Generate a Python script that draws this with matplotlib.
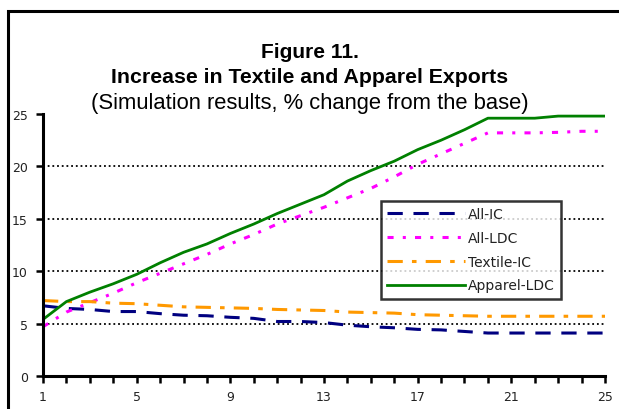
import matplotlib
matplotlib.use("Agg")
import matplotlib.pyplot as plt
from matplotlib.patches import Rectangle
from matplotlib.ticker import MultipleLocator

plt.rcParams['font.family'] = ['Liberation Sans', 'DejaVu Sans']

periods = list(range(1, 26))
x_tick_labels = ["1", "5", "9", "13", "17", "21", "25"]
y_ticks = [0, 5, 10, 15, 20, 25]
grid_levels = [5, 10, 15, 20]

all_ic = [6.7, 6.45, 6.35, 6.15, 6.15, 5.95, 5.8, 5.75, 5.6, 5.5, 5.2, 5.2, 5.1,
          4.85, 4.7, 4.6, 4.45, 4.4, 4.25, 4.1, 4.1, 4.1, 4.1, 4.1, 4.1]
all_ldc = [4.7, 6.1, 7.0, 7.9, 8.9, 9.8, 10.7, 11.6, 12.6, 13.5, 14.5, 15.3, 16.1,
           17.0, 17.9, 19.0, 20.2, 21.2, 22.2, 23.2, 23.2, 23.2, 23.25, 23.35, 23.35]
textile_ic = [7.2, 7.1, 7.1, 6.95, 6.9, 6.75, 6.6, 6.55, 6.5, 6.45, 6.35, 6.3, 6.25,
              6.1, 6.05, 6.0, 5.85, 5.8, 5.75, 5.7, 5.7, 5.7, 5.7, 5.7, 5.7]
apparel_ldc = [5.4, 7.1, 8.0, 8.8, 9.7, 10.8, 11.8, 12.6, 13.6, 14.5, 15.5, 16.4, 17.3,
               18.6, 19.6, 20.5, 21.6, 22.5, 23.5, 24.6, 24.6, 24.6, 24.8, 24.8, 24.8]

W, H = 619, 410
fig = plt.figure(figsize=(W / 100, H / 100), dpi=100)
fig.patch.set_facecolor("white")

# outer frame
fig.patches.append(Rectangle((8 / W, -0.2), 1.5, 1 - 12 / H + 0.2, transform=fig.transFigure,
                             fill=False, edgecolor="black", linewidth=2.2))

ax = fig.add_axes([43 / W, 33 / H, (605 - 43) / W, (377 - 115) / H])

ax.plot(periods, all_ic, color="#000080", linewidth=2.2, linestyle=(0, (5, 3.5)), label="All-IC")
ax.plot(periods, all_ldc, color="#FF00FF", linewidth=2.2, linestyle=(0, (2, 3, 1, 3)), label="All-LDC")
ax.plot(periods, textile_ic, color="#FF9900", linewidth=2.2, linestyle=(0, (5, 3, 1.5, 3)), label="Textile-IC")
ax.plot(periods, apparel_ldc, color="#008000", linewidth=2.0, linestyle="-", label="Apparel-LDC")

for g in grid_levels:
    ax.axhline(g, color="black", linewidth=1.3, linestyle=(0, (1, 1.6)), zorder=0)

ax.set_xlim(1, 25)
ax.set_ylim(0, 25)
ax.set_xticks([int(t) for t in x_tick_labels])
ax.set_xticklabels(x_tick_labels)
ax.xaxis.set_minor_locator(MultipleLocator(1))
ax.set_yticks(y_ticks)
ax.set_yticklabels([str(v) for v in y_ticks])

for s in ["top", "right"]:
    ax.spines[s].set_visible(False)
for s in ["left", "bottom"]:
    ax.spines[s].set_linewidth(2.2)
ax.tick_params(axis="both", which="both", direction="out", width=1.8, length=5,
               labelsize=9, colors="black", labelcolor="#222222")
ax.tick_params(axis="x", which="both", pad=5)
ax.tick_params(axis="y", pad=6)
for lab in ax.get_xticklabels() + ax.get_yticklabels():
    lab.set_family(["DejaVu Sans"])

leg = ax.legend(loc="upper left", bbox_to_anchor=(381 / W, 1 - 202 / H),
                bbox_transform=fig.transFigure, frameon=True, fancybox=False,
                edgecolor="black", prop={"family": ["DejaVu Sans"], "size": 10},
                handlelength=5.6, handletextpad=0.2,
                labelspacing=0.7, borderpad=0.45, borderaxespad=0)
leg.get_frame().set_linewidth(1.8)
for t in leg.get_texts():
    t.set_color("#222222")

fig.text(0.5, 1 - 52 / H, "Figure 11.", ha="center", va="center", fontsize=15, fontweight="bold")
fig.text(0.5, 1 - 78 / H, "Increase in Textile and Apparel Exports", ha="center", va="center",
         fontsize=15.3, fontweight="bold")
fig.text(0.5, 1 - 104 / H, "(Simulation results, % change from the base)", ha="center",
         va="center", fontsize=15.8)

fig.savefig("out.png", dpi=100)
